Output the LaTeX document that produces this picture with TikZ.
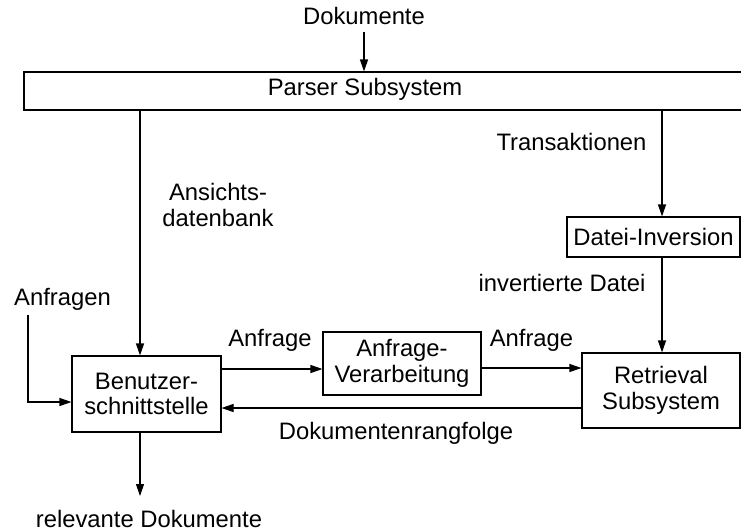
\documentclass[tikz,border=0pt]{standalone}
\usepackage{fontspec}
\setmainfont{Liberation Sans}
\usetikzlibrary{arrows.meta,calc}

\tikzset{
  box/.style={draw, line width=1.1pt, inner sep=0pt, align=center},
  lbl/.style={inner sep=0pt, align=center},
  arr/.style={line width=1.1pt, -{Triangle[length=12pt,width=8pt]}},
}

\begin{document}
\begin{tikzpicture}[x=1pt,y=1pt,font=\fontsize{23.8}{25.5}\selectfont]
\useasboundingbox (0,0) rectangle (741,-531);

% boxes
\node[box, minimum width=722, minimum height=38] (parser) at (385,-91) {};
\node[lbl] (parsertext) at (365,-89) {Parser Subsystem};
\node[box, minimum width=149, minimum height=76] (benutzer) at (146.5,-394) {Benutzer-\\schnittstelle};
\node[box, minimum width=158, minimum height=63] (verarb) at (402,-363.5) {Anfrage-\\Verarbeitung};
\node[box, minimum width=173, minimum height=40] (datei) at (653.5,-237) {Datei-Inversion};
\node[box, minimum width=158, minimum height=75] (retrieval) at (661,-390.5) {Retrieval\\Subsystem};

% free texts
\node[lbl] (dok) at (364,-16) {Dokumente};
\node[lbl] (ansicht) at (218,-205) {Ansichts-\\datenbank};
\node[lbl] (trans) at (571.5,-142) {Transaktionen};
\node[lbl] (invdat) at (562,-283) {invertierte Datei};
\node[lbl] (anfragen) at (62.5,-299) {Anfragen};
\node[lbl] (anf1) at (270,-340) {Anfrage};
\node[lbl] (anf2) at (531.5,-340) {Anfrage};
\node[lbl] (rang) at (396,-433) {Dokumentenrangfolge};
\node[lbl] (relev) at (149,-519) {relevante Dokumente};

% free connector ends
\coordinate (dokend) at (364,-32);
\coordinate (anfstart) at (28,-315);
\coordinate (relevend) at (140,-496);

% connectors
\draw[arr] (dokend) -- (dokend |- parser.north);
\draw[arr] (parser.south -| 140,0) -- (benutzer.north -| 140,0);
\draw[arr] (parser.south -| 662,0) -- (datei.north -| 662,0);
\draw[arr] (datei.south -| 662,0) -- (retrieval.north -| 662,0);
\draw[arr] (anfstart) |- (benutzer.west |- 0,-402);
\draw[arr] (benutzer.east |- 0,-369) -- (verarb.west |- 0,-369);
\draw[arr] (verarb.east |- 0,-368) -- (retrieval.west |- 0,-368);
\draw[arr] (retrieval.west |- 0,-408) -- (benutzer.east |- 0,-408);
\draw[arr] (benutzer.south -| relevend) -- (relevend);
\end{tikzpicture}
\end{document}
